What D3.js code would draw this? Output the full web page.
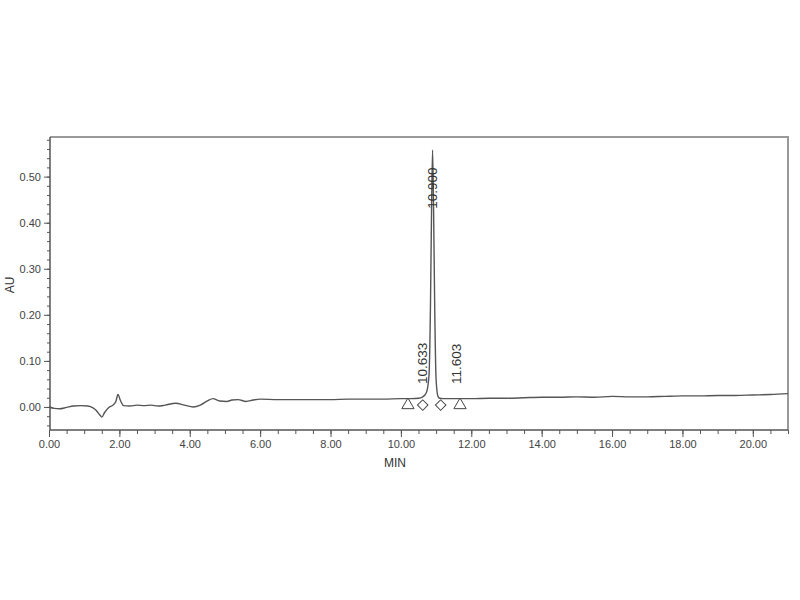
<!DOCTYPE html>
<html>
<head>
<meta charset="utf-8">
<script src="https://cdn.jsdelivr.net/npm/d3@7"></script>
<style>
  body { margin: 0; background: #fff; }
  text { font-family: "Liberation Sans", Arial, sans-serif; }
</style>
</head>
<body>
<svg id="chart" width="800" height="600"></svg>
<script>
// chromatogram trace (minutes, AU)
const traceTime = [0, 0.15, 0.3, 0.5, 0.7, 0.9, 1.1, 1.25, 1.35, 1.45, 1.5, 1.58, 1.7, 1.82, 1.9, 1.96, 2.03, 2.12, 2.3,
  2.5, 2.7, 2.9, 3.1, 3.3, 3.6, 3.85, 4.1, 4.3, 4.5, 4.66, 4.85, 5.05, 5.2, 5.37, 5.6, 5.8, 6.0,
  6.5, 7.0, 7.5, 8.0, 8.5, 9.0, 9.5, 10.0, 10.3, 10.5, 10.6, 10.68, 10.74, 10.8, 10.84, 10.87,
  10.9, 10.93, 10.96, 11.0, 11.05, 11.1, 11.2, 11.4, 11.6, 12.0, 12.5, 13.0, 13.5, 14.0,
  14.5, 15.0, 15.5, 16.0, 16.5, 17.0, 17.5, 18.0, 18.5, 19.0, 19.5, 20.0, 20.5, 21.0];
const traceAU = [0.0, -0.003, -0.004, -0.001, 0.002, 0.003, 0.002, -0.002, -0.008, -0.018, -0.022, -0.012, -0.001, 0.004, 0.012, 0.027, 0.014, 0.003, 0.002,
  0.004, 0.003, 0.004, 0.002, 0.004, 0.008, 0.004, 0.0, 0.004, 0.013, 0.018, 0.013, 0.012, 0.015, 0.016, 0.012, 0.015, 0.017,
  0.016, 0.016, 0.016, 0.016, 0.017, 0.017, 0.017, 0.018, 0.018, 0.019, 0.021, 0.026, 0.035, 0.07, 0.22, 0.42,
  0.558, 0.42, 0.22, 0.06, 0.024, 0.019, 0.018, 0.018, 0.018, 0.018, 0.019, 0.019, 0.020, 0.021,
  0.021, 0.022, 0.021, 0.023, 0.022, 0.022, 0.023, 0.024, 0.024, 0.025, 0.025, 0.026, 0.027, 0.029];

// peak labels
const peakTimes = [10.633, 10.900, 11.603];
const peakLabels = ["10.633", "10.900", "11.603"];
const peakLabelAU = [0.05, 0.43, 0.05];

// integration markers
const markerTime = [10.2, 10.62, 11.13, 11.68];
const markerAU = [0.004, 0.004, 0.004, 0.004];
const markerShape = ["triangle", "diamond", "diamond", "triangle"];

const xTicks = [0, 2, 4, 6, 8, 10, 12, 14, 16, 18, 20];
const yTicks = [0, 0.1, 0.2, 0.3, 0.4, 0.5];

const svg = d3.select("#chart");
const mLeft = 50, mRight = 788, mTop = 137, mBottom = 430;

const x = d3.scaleLinear().domain([0, 21]).range([49, mRight]);
const y = d3.scaleLinear().domain([-0.05, 0.586]).range([mBottom, mTop]);

// frame (top + right)
svg.append("path")
  .attr("d", `M${mLeft},${mTop}H${mRight}V${mBottom}`)
  .attr("fill", "none").attr("stroke", "#999").attr("stroke-width", 2);

// ticks
const gx = svg.append("g").attr("transform", `translate(0,${mBottom})`);
gx.append("g").call(d3.axisBottom(x).tickValues(d3.range(0, 21.01, 0.5)).tickSize(4).tickFormat(""));
gx.append("g").call(d3.axisBottom(x).tickValues(xTicks).tickSize(7).tickFormat(d3.format(".2f")));
gx.selectAll(".domain").remove();
svg.append("line").attr("x1", mLeft).attr("x2", mRight).attr("y1", mBottom).attr("y2", mBottom)
  .attr("stroke", "#555").attr("stroke-width", 1.5);

const gy = svg.append("g").attr("transform", `translate(${mLeft},0)`);
gy.append("g").call(d3.axisLeft(y).tickValues(d3.range(-0.04, 0.581, 0.02)).tickSize(3).tickFormat(""));
gy.append("g").call(d3.axisLeft(y).tickValues(yTicks).tickSize(6).tickFormat(d3.format(".2f")));
gy.selectAll(".domain").remove();
svg.append("line").attr("x1", mLeft).attr("x2", mLeft).attr("y1", mTop).attr("y2", mBottom)
  .attr("stroke", "#555").attr("stroke-width", 1.5);

svg.selectAll(".tick line").attr("stroke", "#555");
svg.selectAll(".tick text").attr("fill", "#444").attr("font-size", 11)
  .attr("font-family", "Liberation Sans, Arial, sans-serif");

// axis titles
svg.append("text").attr("x", 395).attr("y", 467).attr("text-anchor", "middle")
  .attr("font-size", 12).attr("fill", "#333").text("MIN");
svg.append("text").attr("transform", "translate(14,285) rotate(-90)").attr("text-anchor", "middle")
  .attr("font-size", 12).attr("fill", "#333").text("AU");

// trace
const trace = traceTime.map((t, i) => [t, traceAU[i]]);
svg.append("path")
  .datum(trace)
  .attr("d", d3.line().x(d => x(d[0])).y(d => y(d[1])).curve(d3.curveMonotoneX))
  .attr("fill", "none").attr("stroke", "#555").attr("stroke-width", 1.4);

// peak labels
svg.selectAll(".plabel").data(peakTimes).enter().append("text")
  .attr("transform", (d, i) => `translate(${x(d) + 4},${y(peakLabelAU[i])}) rotate(-90)`)
  .attr("font-size", 13.5).attr("fill", "#333")
  .text((d, i) => peakLabels[i]);

// markers
svg.selectAll(".marker").data(markerTime).enter().append("path")
  .attr("transform", (d, i) => `translate(${x(d)},${y(markerAU[i])})` +
    (markerShape[i] === "diamond" ? " rotate(45)" : ""))
  .attr("d", (d, i) => markerShape[i] === "triangle"
    ? d3.symbol().type(d3.symbolTriangle).size(65)()
    : d3.symbol().type(d3.symbolSquare).size(55)())
  .attr("fill", "#fff").attr("stroke", "#444").attr("stroke-width", 1);
</script>
</body>
</html>
